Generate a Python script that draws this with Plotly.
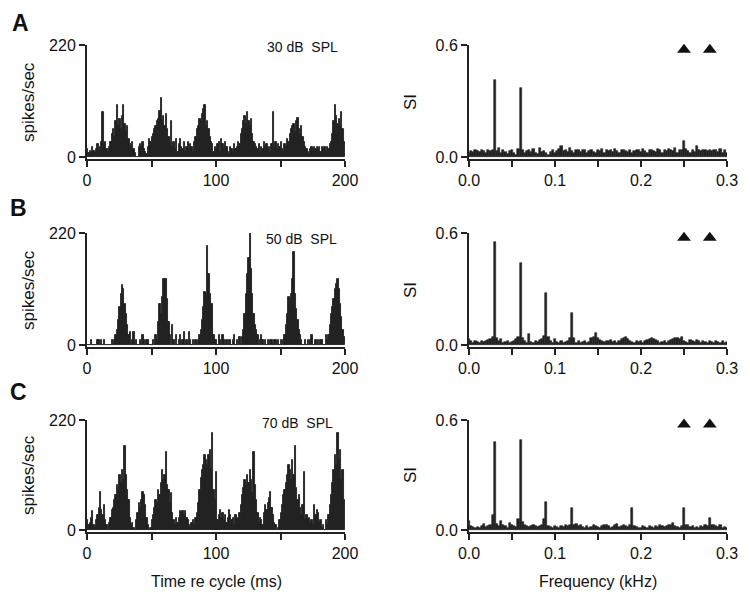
import plotly.graph_objects as go
from plotly.subplots import make_subplots

# ---------------- data ----------------
time_ms = list(range(200))  # 1-ms bins, 0..199 ms (bar centres at +0.5)

psth_30db = [
    15, 8, 12, 8, 20, 12, 8, 15, 25, 12,
    20, 30, 89, 25, 30, 15, 10, 20, 30, 45,
    55, 40, 70, 102, 60, 75, 55, 80, 102, 65,
    50, 60, 35, 25, 20, 30, 15, 8, 0, 0,
    20, 25, 20, 30, 15, 10, 5, 20, 35, 30,
    40, 45, 55, 60, 70, 75, 90, 115, 70, 80,
    60, 85, 55, 40, 25, 70, 20, 30, 15, 35,
    10, 25, 35, 20, 15, 30, 10, 20, 30, 15,
    25, 20, 10, 30, 40, 55, 60, 75, 70, 85,
    95, 102, 60, 70, 55, 40, 30, 25, 10, 20,
    15, 25, 30, 10, 35, 25, 15, 30, 20, 10,
    5, 20, 15, 10, 25, 15, 20, 30, 25, 45,
    55, 70, 80, 65, 89, 70, 60, 75, 45, 30,
    25, 20, 15, 25, 10, 20, 15, 30, 20, 25,
    15, 20, 10, 25, 89, 20, 30, 15, 25, 20,
    30, 15, 10, 25, 20, 35, 30, 45, 55, 60,
    65, 50, 70, 76, 55, 45, 60, 40, 30, 20,
    15, 10, 5, 15, 20, 15, 20, 15, 20, 15,
    20, 10, 20, 15, 20, 10, 20, 15, 25, 30,
    45, 70, 102, 80, 65, 75, 60, 89, 55, 30,
]

psth_50db = [
    0, 0, 0, 10, 0, 0, 0, 0, 10, 10,
    0, 10, 0, 10, 0, 0, 0, 0, 0, 10,
    0, 10, 20, 30, 50, 75, 100, 117, 110, 80,
    60, 40, 20, 25, 0, 10, 25, 0, 10, 0,
    0, 10, 0, 20, 10, 0, 10, 10, 0, 0,
    0, 10, 0, 20, 10, 45, 80, 60, 95, 130,
    130, 130, 90, 45, 20, 0, 40, 10, 0, 20,
    0, 10, 20, 0, 10, 25, 0, 10, 0, 25,
    10, 0, 10, 0, 10, 0, 10, 20, 30, 50,
    75, 105, 100, 195, 140, 100, 80, 80, 20, 10,
    10, 0, 20, 10, 0, 20, 10, 0, 10, 0,
    10, 10, 0, 10, 20, 0, 10, 0, 15, 0,
    15, 30, 60, 100, 140, 170, 222, 150, 100, 60,
    40, 30, 20, 0, 10, 20, 10, 0, 10, 0,
    10, 0, 10, 10, 0, 10, 10, 0, 10, 0,
    10, 0, 10, 20, 40, 60, 95, 90, 100, 130,
    182, 100, 70, 50, 30, 20, 10, 0, 0, 10,
    0, 10, 0, 10, 20, 0, 0, 10, 0, 10,
    0, 10, 10, 0, 0, 20, 10, 20, 40, 60,
    75, 90, 110, 120, 130, 110, 80, 55, 30, 15,
]

psth_70db = [
    20, 10, 15, 25, 38, 10, 5, 20, 30, 45,
    77, 40, 30, 50, 20, 10, 0, 15, 25, 40,
    45, 60, 70, 90, 80, 110, 95, 120, 100, 169,
    110, 80, 60, 25, 10, 15, 5, 0, 20, 35,
    55, 45, 60, 77, 70, 50, 25, 10, 0, 5,
    20, 30, 45, 60, 55, 80, 70, 95, 120, 100,
    110, 156, 90, 80, 55, 75, 35, 20, 10, 25,
    15, 25, 38, 35, 38, 30, 38, 25, 20, 10,
    5, 15, 20, 10, 25, 35, 55, 80, 105, 120,
    130, 150, 140, 130, 150, 160, 120, 195, 80, 60,
    116, 20, 30, 40, 25, 35, 20, 30, 15, 25,
    40, 30, 20, 25, 10, 30, 25, 20, 35, 50,
    70, 85, 100, 90, 110, 95, 120, 100, 75, 156,
    90, 60, 35, 15, 25, 20, 10, 35, 50, 40,
    55, 65, 77, 45, 30, 15, 10, 0, 5, 20,
    35, 50, 70, 80, 95, 110, 130, 120, 100, 140,
    110, 169, 85, 60, 70, 45, 30, 50, 116, 20,
    30, 20, 25, 15, 20, 10, 51, 30, 40, 35,
    15, 20, 5, 10, 0, 20, 10, 30, 50, 70,
    95, 120, 150, 130, 195, 140, 160, 100, 120, 60,
]

freq_khz = [round(0.0025 * i, 4) for i in range(121)]

si_30db = [
    0.02, 0.03, 0.025, 0.035, 0.03, 0.025, 0.04, 0.03, 0.02, 0.035,
    0.03, 0.04, 0.41, 0.03, 0.05, 0.02, 0.035, 0.025, 0.015, 0.03,
    0.04, 0.02, 0.01, 0.045, 0.37, 0.04, 0.02, 0.03, 0.035, 0.025,
    0.045, 0.02, 0.015, 0.05, 0.025, 0.03, 0.02, 0.01, 0.025, 0.035,
    0.02, 0.03, 0.045, 0.06, 0.03, 0.04, 0.025, 0.05, 0.03, 0.02,
    0.04, 0.04, 0.025, 0.035, 0.04, 0.02, 0.03, 0.04, 0.025, 0.02,
    0.035, 0.03, 0.045, 0.02, 0.04, 0.03, 0.035, 0.025, 0.045, 0.03,
    0.02, 0.035, 0.04, 0.03, 0.025, 0.04, 0.02, 0.03, 0.035, 0.04,
    0.025, 0.045, 0.03, 0.02, 0.035, 0.04, 0.03, 0.025, 0.045, 0.035,
    0.02, 0.04, 0.03, 0.045, 0.035, 0.03, 0.05, 0.02, 0.035, 0.04,
    0.084, 0.045, 0.03, 0.02, 0.035, 0.025, 0.06, 0.04, 0.03, 0.04,
    0.035, 0.03, 0.04, 0.03, 0.035, 0.04, 0.025, 0.045, 0.02, 0.04,
    0.02,
]

si_50db = [
    0.03, 0.02, 0.01, 0.02, 0.015, 0.01, 0.02, 0.015, 0.02, 0.025,
    0.03, 0.045, 0.55, 0.04, 0.02, 0.03, 0.01, 0.015, 0.02, 0.01,
    0.015, 0.02, 0.03, 0.045, 0.44, 0.04, 0.02, 0.01, 0.06, 0.015,
    0.01, 0.02, 0.015, 0.025, 0.03, 0.05, 0.28, 0.045, 0.02, 0.01,
    0.03, 0.015, 0.01, 0.02, 0.01, 0.015, 0.02, 0.035, 0.17, 0.04,
    0.01, 0.02, 0.01, 0.015, 0.02, 0.01, 0.015, 0.035, 0.045, 0.066,
    0.04, 0.025, 0.02, 0.015, 0.02, 0.02, 0.025, 0.015, 0.02, 0.01,
    0.02, 0.03, 0.035, 0.045, 0.03, 0.02, 0.015, 0.01, 0.02, 0.015,
    0.02, 0.01, 0.02, 0.025, 0.03, 0.035, 0.03, 0.025, 0.02, 0.01,
    0.015, 0.02, 0.01, 0.02, 0.025, 0.03, 0.04, 0.035, 0.03, 0.045,
    0.02, 0.015, 0.01, 0.025, 0.02, 0.015, 0.025, 0.02, 0.01, 0.02,
    0.015, 0.01, 0.02, 0.015, 0.01, 0.02, 0.015, 0.01, 0.02, 0.01,
    0.015,
]

si_70db = [
    0.05, 0.02, 0.015, 0.01, 0.015, 0.01, 0.02, 0.035, 0.015, 0.02,
    0.03, 0.08, 0.48, 0.035, 0.02, 0.05, 0.025, 0.02, 0.01, 0.04,
    0.03, 0.02, 0.015, 0.06, 0.49, 0.045, 0.03, 0.02, 0.015, 0.02,
    0.025, 0.02, 0.015, 0.02, 0.03, 0.06, 0.155, 0.02, 0.015, 0.01,
    0.02, 0.015, 0.01, 0.02, 0.015, 0.03, 0.02, 0.025, 0.12, 0.03,
    0.035, 0.02, 0.025, 0.015, 0.01, 0.02, 0.01, 0.015, 0.025, 0.02,
    0.015, 0.01, 0.02, 0.03, 0.025, 0.02, 0.01, 0.015, 0.025, 0.035,
    0.015, 0.02, 0.025, 0.02, 0.015, 0.03, 0.12, 0.02, 0.015, 0.01,
    0.01, 0.02, 0.015, 0.01, 0.02, 0.015, 0.01, 0.02, 0.015, 0.025,
    0.02, 0.015, 0.02, 0.025, 0.03, 0.04, 0.02, 0.015, 0.01, 0.02,
    0.12, 0.03, 0.025, 0.015, 0.02, 0.01, 0.015, 0.01, 0.02, 0.015,
    0.025, 0.02, 0.066, 0.03, 0.025, 0.02, 0.015, 0.025, 0.01, 0.015,
    0.01,
]

levels = ["30 dB\u00a0\u00a0SPL", "50 dB\u00a0\u00a0SPL", "70 dB\u00a0\u00a0SPL"]
panel_letters = ["A", "B", "C"]
psth_ticks = [0, 50, 100, 150, 200]
psth_ticktext = ["0", "", "100", "", "200"]
si_ticks = [0.0, 0.05, 0.1, 0.15, 0.2, 0.25, 0.3]
si_ticktext = ["0.0", "", "0.1", "", "0.2", "", "0.3"]
triangle_freqs = [0.25, 0.28]

# ---------------- figure ----------------
OFF = 8                       # page body margin in the browser
W, H = 750 - OFF, 603 - OFF   # figure size so that it fills the window
INK = "#222222"
FONT = "Liberation Sans, Arial, Helvetica, sans-serif"

fig = make_subplots(rows=3, cols=2)

# target window-pixel geometry: (top, bottom) per row, (left, right) per column
rows_px = [(45, 159), (233, 347), (420, 532)]
cols_px = [(87, 345), (469, 727)]

psths = [psth_30db, psth_50db, psth_70db]
sis = [si_30db, si_50db, si_70db]

def px_x(x):
    return (x - OFF) / W

def px_y(y):
    return 1 - (y - OFF) / H

for r in range(3):
    fig.add_trace(go.Bar(x=[t + 0.5 for t in time_ms], y=psths[r], width=1.0,
                         marker=dict(color=INK, line=dict(color=INK, width=0.9)),
                         showlegend=False, hoverinfo="x+y"), row=r + 1, col=1)
    fig.add_trace(go.Bar(x=freq_khz, y=sis[r], width=0.0025,
                         marker=dict(color=INK, line=dict(color=INK, width=0.6)),
                         showlegend=False), row=r + 1, col=2)
    fig.add_trace(go.Scatter(x=triangle_freqs, y=[0.575, 0.575], mode="markers",
                             marker=dict(symbol="triangle-up", size=12, color="#111111"),
                             showlegend=False, cliponaxis=False), row=r + 1, col=2)

axis_common = dict(showline=True, linecolor=INK, linewidth=2, ticks="outside",
                   tickwidth=2, tickcolor=INK, ticklen=6, showgrid=False,
                   zeroline=False, automargin=False,
                   tickfont=dict(family=FONT, size=16, color="#111111"))

for r in range(3):
    top, bot = rows_px[r]
    for c in range(2):
        idx = r * 2 + c + 1
        xa = "xaxis" if idx == 1 else f"xaxis{idx}"
        ya = "yaxis" if idx == 1 else f"yaxis{idx}"
        left, right = cols_px[c]
        xd = [px_x(left), px_x(right)]
        yd = [px_y(bot), px_y(top)]
        if c == 0:
            ymin = -2 * 220.0 / (bot - 2 - top)
            fig.layout[xa].update(domain=xd, range=[0, 200],
                                  tickvals=psth_ticks, ticktext=psth_ticktext,
                                  anchor=ya.replace("axis", ""), **axis_common)
            fig.layout[ya].update(domain=yd, range=[ymin, 220],
                                  tickvals=[0, 220], ticktext=["0", "220"],
                                  anchor=xa.replace("axis", ""), **axis_common)
        else:
            ymin = -2 * 0.6 / (bot - 2 - top)
            fig.layout[xa].update(domain=xd, range=[0, 0.3],
                                  tickvals=si_ticks, ticktext=si_ticktext,
                                  anchor=ya.replace("axis", ""), **axis_common)
            fig.layout[ya].update(domain=yd, range=[ymin, 0.6],
                                  tickvals=[0.0, 0.6], ticktext=["0.0", "0.6"],
                                  anchor=xa.replace("axis", ""), **axis_common)

annotations = []
letter_xy = [(20, 23), (18, 208), (18, 392)]
label_xy = [(302, 47), (301, 239), (297, 423)]
ylabel_y = [102, 290, 475]
for r in range(3):
    annotations.append(dict(text=f"<b>{panel_letters[r]}</b>", x=px_x(letter_xy[r][0]),
                            y=px_y(letter_xy[r][1]),
                            xref="paper", yref="paper", showarrow=False,
                            font=dict(family=FONT, size=23, color="#111111"),
                            xanchor="center", yanchor="middle"))
    annotations.append(dict(text=levels[r], x=px_x(label_xy[r][0]), y=px_y(label_xy[r][1]),
                            xref="paper", yref="paper", showarrow=False,
                            font=dict(family=FONT, size=14, color="#111111"),
                            xanchor="center", yanchor="middle"))
    annotations.append(dict(text="spikes/sec", x=px_x(28), y=px_y(ylabel_y[r]),
                            xref="paper", yref="paper", showarrow=False, textangle=-90,
                            font=dict(family=FONT, size=17, color="#111111"),
                            xanchor="center", yanchor="middle"))
    annotations.append(dict(text="SI", x=px_x(410), y=px_y(ylabel_y[r]),
                            xref="paper", yref="paper", showarrow=False, textangle=-90,
                            font=dict(family=FONT, size=17, color="#111111"),
                            xanchor="center", yanchor="middle"))

annotations.append(dict(text="Time re cycle (ms)", x=px_x(216), y=px_y(581),
                        xref="paper", yref="paper", showarrow=False,
                        font=dict(family=FONT, size=16, color="#111111"),
                        xanchor="center", yanchor="middle"))
annotations.append(dict(text="Frequency (kHz)", x=px_x(598), y=px_y(581),
                        xref="paper", yref="paper", showarrow=False,
                        font=dict(family=FONT, size=16, color="#111111"),
                        xanchor="center", yanchor="middle"))

fig.update_layout(width=W, height=H, margin=dict(l=0, r=0, t=0, b=0, autoexpand=False),
                  paper_bgcolor="white", plot_bgcolor="white",
                  bargap=0, barmode="overlay", annotations=annotations,
                  font=dict(family=FONT, color="#111111"))

fig.write_html("out.html")
